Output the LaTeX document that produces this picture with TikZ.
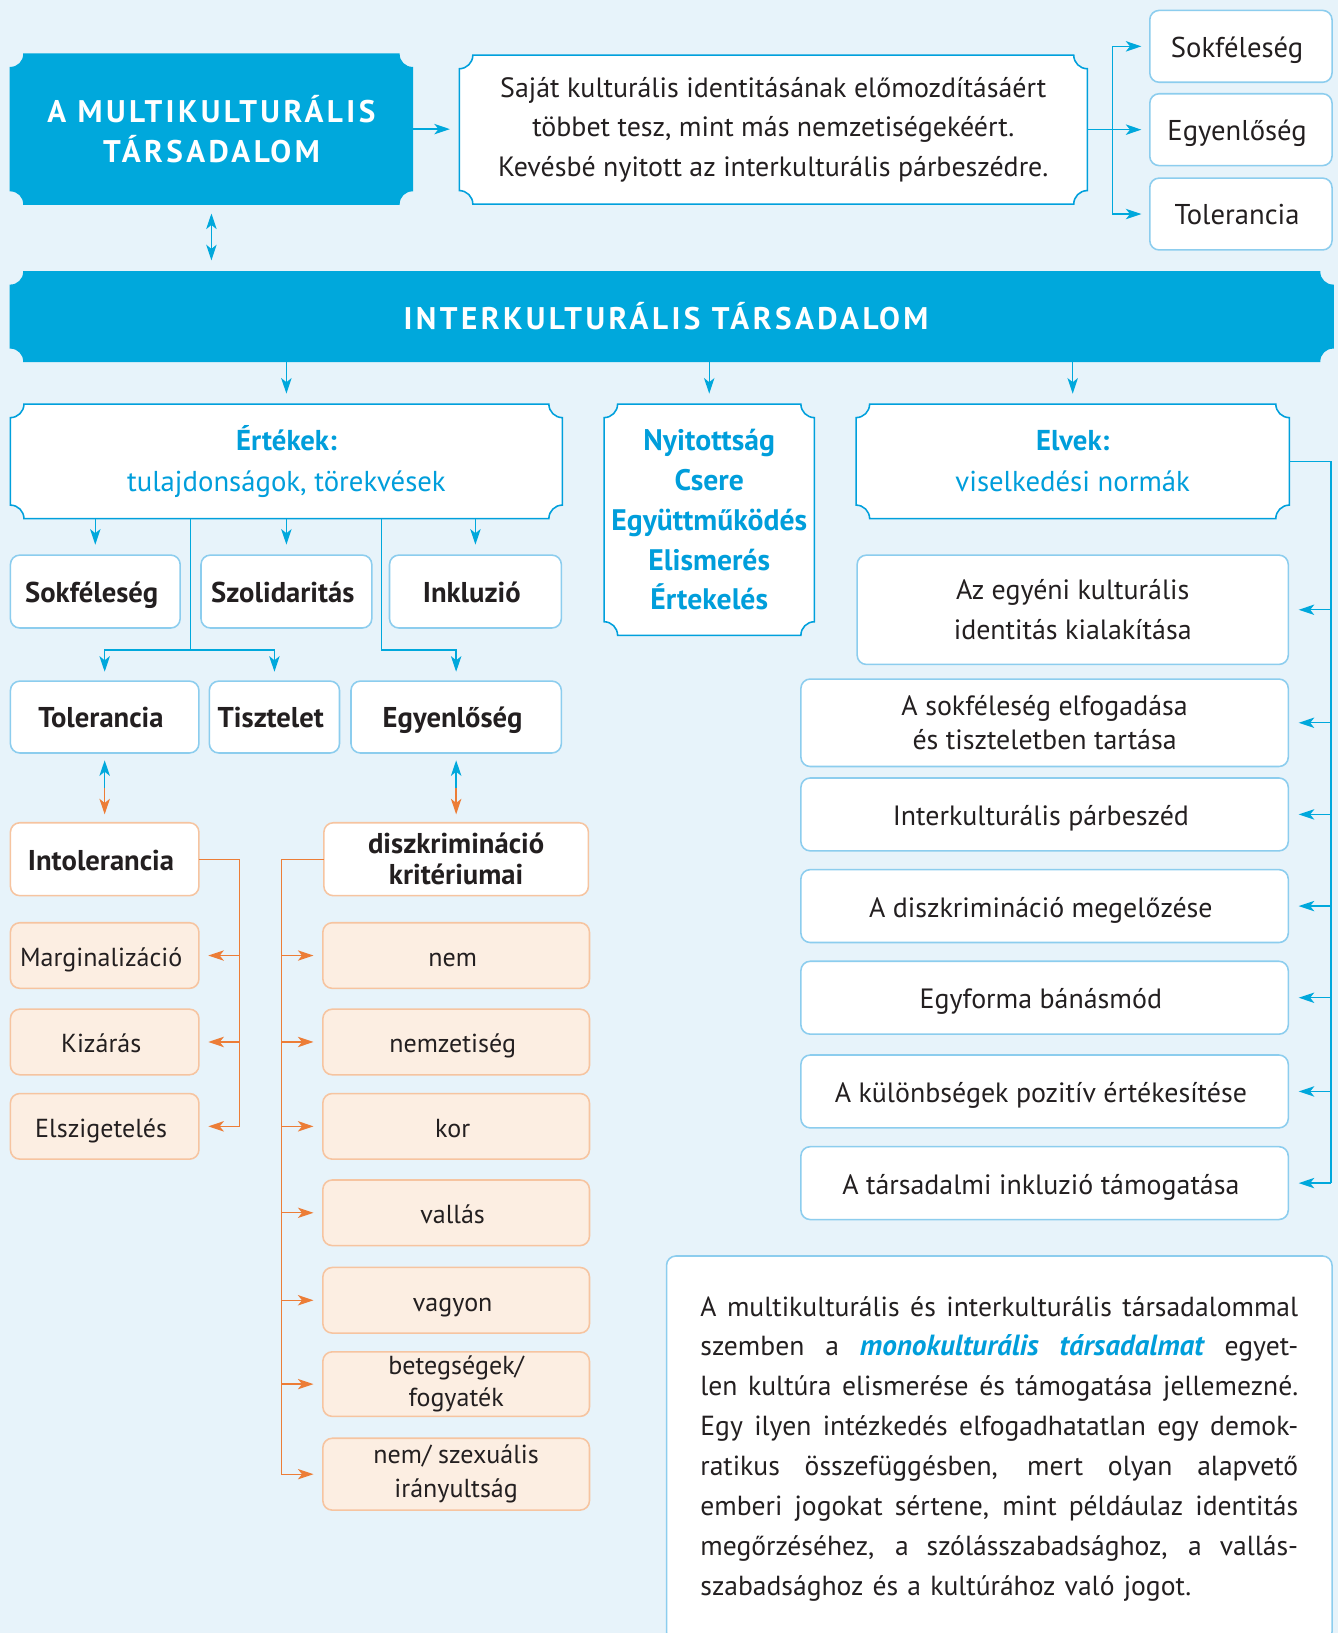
\documentclass[tikz,border=0pt]{standalone}
\usepackage{fontspec}
\setmainfont{PT Sans}
\newfontfamily\spacedfont[LetterSpace=11]{PT Sans}
\usetikzlibrary{positioning,arrows.meta,calc}

\definecolor{pagebg}{RGB}{231,243,250}
\definecolor{ikblue}{RGB}{0,168,220}
\definecolor{frameblue}{RGB}{0,160,220}
\definecolor{boxline}{RGB}{140,205,238}
\definecolor{inkdark}{RGB}{35,31,32}
\definecolor{bluetext}{RGB}{0,158,219}
\definecolor{oarrow}{RGB}{236,125,55}
\definecolor{oborder}{RGB}{246,196,160}
\definecolor{ofill}{RGB}{252,238,226}

\pgfdeclarelayer{pagebg}
\pgfdeclarelayer{frames}
\pgfsetlayers{pagebg,frames,main}

% box with cut-in corners, drawn behind a named node
\newcommand\nr{13pt}
\newcommand\notchframe[3]{%
  \begin{pgfonlayer}{frames}
    \path[fill=#2, draw=#3, line width=1.5pt]
      ([yshift=-\nr]#1.north west) arc[start angle=-90, end angle=0, radius=\nr]
      -- ([xshift=-\nr]#1.north east) arc[start angle=180, end angle=270, radius=\nr]
      -- ([yshift=\nr]#1.south east) arc[start angle=90, end angle=180, radius=\nr]
      -- ([xshift=\nr]#1.south west) arc[start angle=0, end angle=90, radius=\nr]
      -- cycle;
  \end{pgfonlayer}}
% one justified line of the note
\newcommand\jline[1]{\leavevmode\hbox to 574pt{\spaceskip=0.25em plus 1em minus 0.08em\relax #1}}

\begin{document}
\begin{tikzpicture}[x = 1pt, y = 1pt,
    every node/.style = { align = center, inner sep = 0pt, outer sep = 0pt, text = inkdark },
    box/.style = { draw = boxline, fill = white, line width = 1.5pt, rounded corners = 9pt },
    obox/.style = { box, draw = oborder, fill = ofill },
    wobox/.style = { box, draw = oborder },
    oneline/.style = { text height = 24pt, text depth = 3pt },
    txt/.style = { font = \fontsize{26.8}{38}\selectfont },
    otxt/.style = { oneline, font = \fontsize{25}{38}\selectfont },
    heavy/.style = { oneline, font = \bfseries\fontsize{27.5}{30}\selectfont },
    bluetxt/.style = { text = bluetext, font = \fontsize{27.6}{39}\selectfont },
    blink/.style = { draw = ikblue, line width = 1.3pt },
    olink/.style = { draw = oarrow, line width = 1.3pt },
    tip/.style = { -{Stealth[length = 15pt, width = 10pt, inset = 4pt]} },
    twotip/.style = { {Stealth[length = 15pt, width = 10pt, inset = 4pt]}-{Stealth[length = 15pt, width = 10pt, inset = 4pt]} }]

  \begin{pgfonlayer}{pagebg}
    \fill[pagebg] (0,0) rectangle (1285,-1568);
  \end{pgfonlayer}
  \useasboundingbox (0,0) rectangle (1285,-1568);

  % multicultural society
  \node [minimum width = 386, minimum height = 144, text = white,
         font = \spacedfont\bfseries\fontsize{30}{38}\selectfont] (multi) at (203,-124)
        { A MULTIKULTURÁLIS \\ TÁRSADALOM };
  \notchframe{multi}{ikblue}{ikblue}
  \node [txt, minimum width = 603, minimum height = 143] (idea) at (742.5,-124.5)
        { Saját kulturális identitásának előmozdításáért \\ többet tesz, mint más nemzetiségekéért. \\ Kevésbé nyitott az interkulturális párbeszédre. };
  \notchframe{idea}{white}{frameblue}
  \node [box, oneline, font = \fontsize{27.5}{30}\selectfont, minimum width = 175, minimum height = 69] (msok) at (1191.5,-44.5) { Sokféleség };
  \node [box, oneline, font = \fontsize{27.5}{30}\selectfont, minimum width = 175, minimum height = 69] (megy) at (1191.5,-124.5) { Egyenlőség };
  \node [box, oneline, font = \fontsize{27.5}{30}\selectfont, minimum width = 175, minimum height = 69] (mtol) at (1191.5,-205.5) { Tolerancia };

  % intercultural society
  \node [minimum width = 1270, minimum height = 86, text = white,
         font = \spacedfont\bfseries\fontsize{30}{36}\selectfont] (inter) at (645,-304)
        { INTERKULTURÁLIS TÁRSADALOM };
  \notchframe{inter}{ikblue}{ikblue}

  \node [bluetxt, minimum width = 530, minimum height = 110] (values) at (275,-443)
        { \textbf{Értékek:} \\ tulajdonságok, törekvések };
  \notchframe{values}{white}{frameblue}
  \node [bluetxt, font = \bfseries\fontsize{28.5}{38.3}\selectfont, minimum width = 202, minimum height = 222] (open) at (681,-499)
        { Nyitottság \\ Csere \\ Együttműködés \\ Elismerés \\ Értekelés };
  \notchframe{open}{white}{frameblue}
  \node [bluetxt, minimum width = 416, minimum height = 110] (rules) at (1030,-443)
        { \textbf{Elvek:} \\ viselkedési normák };
  \notchframe{rules}{white}{frameblue}

  % values
  \node [box, heavy, minimum width = 163, minimum height = 70] (vsok) at (91.5,-568) { Sokféleség };
  \node [box, heavy, minimum width = 164, minimum height = 70] (vszol) at (275,-568) { Szolidaritás };
  \node [box, heavy, minimum width = 165, minimum height = 70] (vink) at (456.5,-568) { Inkluzió };
  \node [box, heavy, minimum width = 181, minimum height = 69] (vtol) at (100.5,-688.5) { Tolerancia };
  \node [box, heavy, minimum width = 125, minimum height = 69] (vtisz) at (263.5,-688.5) { Tisztelet };
  \node [box, heavy, minimum width = 202, minimum height = 69] (vegy) at (438,-688.5) { Egyenlőség };

  \node [wobox, heavy, minimum width = 181, minimum height = 70] (intol) at (100.5,-825) { Intolerancia };
  \node [wobox, font = \bfseries\fontsize{27.5}{30}\selectfont, minimum width = 254, minimum height = 70] (crit) at (438,-825) { diszkrimináció \\ kritériumai };

  \node [obox, otxt, minimum width = 181, minimum height = 63] (marg) at (100.5,-917.5) { Marginalizáció };
  \node [obox, otxt, minimum width = 181, minimum height = 63] (kiz) at (100.5,-1000.5) { Kizárás };
  \node [obox, otxt, minimum width = 181, minimum height = 63] (elsz) at (100.5,-1081.5) { Elszigetelés };

  \node [obox, otxt, minimum width = 256, minimum height = 63] (cnem) at (438,-917.5) { nem };
  \node [obox, otxt, minimum width = 256, minimum height = 63] (cnemz) at (438,-1000.5) { nemzetiség };
  \node [obox, otxt, minimum width = 256, minimum height = 63] (ckor) at (438,-1081.5) { kor };
  \node [obox, otxt, minimum width = 256, minimum height = 63] (cval) at (438,-1164.5) { vallás };
  \node [obox, otxt, minimum width = 256, minimum height = 63] (cvag) at (438,-1248.5) { vagyon };
  \node [obox, font = \fontsize{25}{31}\selectfont, minimum width = 256, minimum height = 62] (cbet) at (438,-1329) { betegségek/ \\ fogyaték };
  \node [obox, font = \fontsize{25}{33}\selectfont, minimum width = 256, minimum height = 69] (cszex) at (438,-1415.5) { nem/ szexuális \\ irányultság };

  % principles
  \node [box, txt, minimum width = 414, minimum height = 105] (pid) at (1030,-585.5) { Az egyéni kulturális \\ identitás kialakítása };
  \node [box, font = \fontsize{26.8}{33}\selectfont, minimum width = 468, minimum height = 84] (pacc) at (1003,-694) { A sokféleség elfogadása \\ és tiszteletben tartása };
  \node [box, txt, oneline, minimum width = 468, minimum height = 70] (pdia) at (1003,-782) { Interkulturális párbeszéd };
  \node [box, txt, oneline, minimum width = 468, minimum height = 70] (pprev) at (1003,-870) { A diszkrimináció megelőzése };
  \node [box, txt, oneline, minimum width = 468, minimum height = 70] (pequ) at (1003,-958) { Egyforma bánásmód };
  \node [box, txt, oneline, minimum width = 468, minimum height = 70] (pdiff) at (1003,-1048) { A különbségek pozitív értékesítése };
  \node [box, txt, oneline, minimum width = 468, minimum height = 70] (pinc) at (1003,-1136) { A társadalmi inkluzió támogatása };

  \node [box, font = \fontsize{26.5}{38.3}\selectfont, align = left, text width = 574, minimum width = 639, minimum height = 370,
         anchor = north west] (note) at (640,-1206)
        { \jline{A multikulturális és interkulturális társadalommal} \\
          \jline{szemben a \textcolor{bluetext}{\bfseries\itshape\fontsize{28}{38.3}\selectfont monokulturális társadalmat} egyet-} \\
          \jline{len kultúra elismerése és támogatása jellemezné.} \\
          \jline{Egy ilyen intézkedés elfogadhatatlan egy demok-} \\
          \jline{ratikus összefüggésben, mert olyan alapvető} \\
          \jline{emberi jogokat sértene, mint példáulaz identitás} \\
          \jline{megőrzéséhez, a szólásszabadsághoz, a vallás-} \\
          szabadsághoz és a kultúrához való jogot. };

  % connectors
  \draw [blink, tip, shorten >= 9pt] (multi.east) -- (multi.east -| idea.west);
  \draw [blink] (idea.east) -- ++(24,0) coordinate (fork);
  \draw [blink] (fork |- msok) -- (fork |- mtol);
  \draw [blink, tip, shorten >= 8pt] (fork |- msok) -- (msok.west);
  \draw [blink, tip, shorten >= 8pt] (fork |- megy) -- (megy.west);
  \draw [blink, tip, shorten >= 8pt] (fork |- mtol) -- (mtol.west);
  \draw [blink, twotip, shorten <= 9pt, shorten >= 11pt] (multi.south) -- (multi.south |- inter.north);

  \draw [blink, tip, shorten >= 10pt] (values.north |- inter.south) -- (values.north);
  \draw [blink, tip, shorten >= 10pt] (open.north |- inter.south) -- (open.north);
  \draw [blink, tip, shorten >= 10pt] (rules.north |- inter.south) -- (rules.north);

  \draw [blink, tip, shorten >= 10pt] (vsok.north |- values.south) -- (vsok.north);
  \draw [blink, tip, shorten >= 10pt] (vszol.north |- values.south) -- (vszol.north);
  \draw [blink, tip, shorten >= 10pt] (vink.north |- values.south) -- (vink.north);

  \coordinate (split1) at (183,-624);
  \coordinate (split2) at (366,-624);
  \draw [blink, tip, shorten >= 9pt] (split1 |- values.south) -- (split1) -| (vtol.north);
  \draw [blink, tip, shorten >= 9pt] (split1) -| (vtisz.north);
  \draw [blink, tip, shorten >= 9pt] (split2 |- values.south) -- (split2) -| (vegy.north);

  \coordinate (tmid) at ($(vtol.south)!0.5!(intol.north)$);
  \draw [blink, tip, shorten >= 7pt] (tmid) -- (vtol.south);
  \draw [olink, tip, shorten >= 8pt] (tmid) -- (intol.north);
  \coordinate (emid) at ($(vegy.south)!0.5!(crit.north)$);
  \draw [blink, tip, shorten >= 7pt] (emid) -- (vegy.south);
  \draw [olink, tip, shorten >= 8pt] (emid) -- (crit.north);

  \draw [olink] (intol.east) -- ++(39,0) coordinate (ibus) -- (ibus |- elsz);
  \draw [olink, tip, shorten >= 9pt] (ibus |- marg) -- (marg.east);
  \draw [olink, tip, shorten >= 9pt] (ibus |- kiz) -- (kiz.east);
  \draw [olink, tip, shorten >= 9pt] (ibus |- elsz) -- (elsz.east);

  \draw [olink] (crit.west) -- ++(-41,0) coordinate (cbus) -- (cbus |- cszex);
  \draw [olink, tip, shorten >= 9pt] (cbus |- cnem) -- (cnem.west);
  \draw [olink, tip, shorten >= 9pt] (cbus |- cnemz) -- (cnemz.west);
  \draw [olink, tip, shorten >= 9pt] (cbus |- ckor) -- (ckor.west);
  \draw [olink, tip, shorten >= 9pt] (cbus |- cval) -- (cval.west);
  \draw [olink, tip, shorten >= 9pt] (cbus |- cvag) -- (cvag.west);
  \draw [olink, tip, shorten >= 9pt] (cbus |- cbet) -- (cbet.west);
  \draw [olink, tip, shorten >= 9pt] (cbus |- cszex) -- (cszex.west);

  \draw [blink] (rules.east) -- ++(40,0) coordinate (rbus) -- (rbus |- pinc);
  \draw [blink, tip, shorten >= 10pt] (rbus |- pid) -- (pid.east);
  \draw [blink, tip, shorten >= 10pt] (rbus |- pacc) -- (pacc.east);
  \draw [blink, tip, shorten >= 10pt] (rbus |- pdia) -- (pdia.east);
  \draw [blink, tip, shorten >= 10pt] (rbus |- pprev) -- (pprev.east);
  \draw [blink, tip, shorten >= 10pt] (rbus |- pequ) -- (pequ.east);
  \draw [blink, tip, shorten >= 10pt] (rbus |- pdiff) -- (pdiff.east);
  \draw [blink, tip, shorten >= 10pt] (rbus |- pinc) -- (pinc.east);
\end{tikzpicture}
\end{document}
